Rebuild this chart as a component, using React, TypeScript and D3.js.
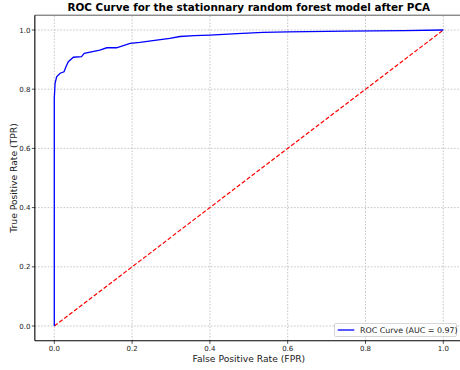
import React from "react";
import * as d3 from "d3";

// ROC curve points
const fpr = [0, 0, 0.002, 0.006, 0.015, 0.025, 0.03, 0.036, 0.049, 0.07, 0.077, 0.117, 0.135, 0.16, 0.195, 0.22, 0.263, 0.297, 0.323, 0.36, 0.4, 0.47, 0.537, 0.6, 0.75, 0.9, 1.0];
const tpr = [0, 0.77, 0.82, 0.842, 0.854, 0.859, 0.876, 0.893, 0.908, 0.91, 0.921, 0.932, 0.94, 0.94, 0.955, 0.958, 0.966, 0.972, 0.978, 0.981, 0.983, 0.988, 0.992, 0.994, 0.996, 0.998, 1.0];
const ticks = [0, 0.2, 0.4, 0.6, 0.8, 1.0];
const legendLabel = "ROC Curve (AUC = 0.97)";

const W = 460;
const H = 370;
const font = "DejaVu Sans, sans-serif";

const App = () => {
  const x = d3.scaleLinear().domain([-0.05, 1.05]).range([34.85, 462.75]);
  const y = d3.scaleLinear().domain([-0.05, 1.05]).range([340.8, 15.2]);
  const pts = fpr.map((f, i) => [f, tpr[i]] as [number, number]);
  const line = d3
    .line<[number, number]>()
    .x(d => x(d[0]))
    .y(d => y(d[1]));
  const [x0, x1] = x.range();
  const [y0, y1] = y.range();

  return (
    <svg width={W} height={H} style={{ position: "absolute", left: 0, top: 0 }}>
      <rect width={W} height={H} fill="white" />
      <text x={(x0 + x1) / 2} y={11} textAnchor="middle" fontFamily={font} fontWeight="bold" fontSize={10.4}>
        ROC Curve for the stationnary random forest model after PCA
      </text>
      {/* grid */}
      {ticks.map(t => (
        <g key={"g" + t}>
          <line x1={x(t)} x2={x(t)} y1={y0} y2={y1} stroke="#b8b8b8" strokeWidth={0.8} strokeDasharray="1.6,1.6" />
          <line x1={x0} x2={x1} y1={y(t)} y2={y(t)} stroke="#b8b8b8" strokeWidth={0.8} strokeDasharray="1.6,1.6" />
        </g>
      ))}
      {/* diagonal */}
      <path d={line([[0, 0], [1, 1]]) || ""} fill="none" stroke="red" strokeWidth={1.2} strokeDasharray="4.2,2" />
      {/* roc */}
      <path d={line(pts) || ""} fill="none" stroke="blue" strokeWidth={1.3} />
      {/* spines */}
      <line x1={x0} x2={x1} y1={y1} y2={y1} stroke="#444" strokeWidth={0.9} />
      <line x1={x0} x2={x0} y1={y0} y2={y1} stroke="#000" strokeWidth={1.1} />
      <line x1={x0} x2={x1} y1={y0} y2={y0} stroke="#000" strokeWidth={1.1} />
      {/* ticks */}
      {ticks.map(t => (
        <g key={"t" + t} fontFamily={font} fontSize={7} fill="#222">
          <line x1={x(t)} x2={x(t)} y1={y0} y2={y0 + 3} stroke="#000" strokeWidth={0.7} />
          <text x={x(t)} y={y0 + 10.5} textAnchor="middle">{t.toFixed(1)}</text>
          <line x1={x0 - 3} x2={x0} y1={y(t)} y2={y(t)} stroke="#000" strokeWidth={0.7} />
          <text x={x0 - 4.5} y={y(t) + 2.5} textAnchor="end">{t.toFixed(1)}</text>
        </g>
      ))}
      <text x={(x0 + x1) / 2} y={362} textAnchor="middle" fontFamily={font} fontSize={9.2} fill="#222">
        False Positive Rate (FPR)
      </text>
      <text transform={`translate(17,${(y0 + y1) / 2}) rotate(-90)`} textAnchor="middle" fontFamily={font} fontSize={9.2} fill="#222">
        True Positive Rate (TPR)
      </text>
      {/* legend */}
      <g>
        <rect x={334.5} y={323.5} width={122} height={13} rx={1.5} fill="white" fillOpacity={0.8} stroke="#ccc" strokeWidth={0.8} />
        <line x1={337.7} x2={354.3} y1={330} y2={330} stroke="blue" strokeWidth={1.3} />
        <text x={360} y={332.8} fontFamily={font} fontSize={7.9} fill="#222">{legendLabel}</text>
      </g>
    </svg>
  );
};

export default App;
